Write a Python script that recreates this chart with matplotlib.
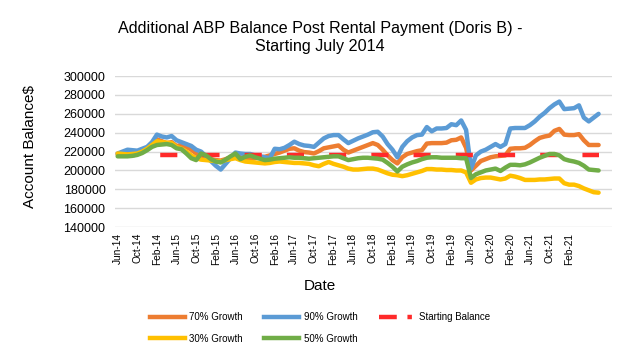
import numpy as np
import matplotlib.pyplot as plt
from matplotlib.lines import Line2D

plt.rcParams['font.family'] = ['Liberation Sans', 'DejaVu Sans']

# DATA (account balance, in thousands of $), one value per month from Jun-14
g90 = [218, 220, 222, 221.5, 221, 223, 225, 230, 238, 236, 235, 236.5, 232, 230, 228, 226, 222, 220, 215, 210,
       205, 201, 207, 213, 219, 218, 217.5, 217.5, 216, 215, 214, 213, 223, 222.5, 224, 227, 230.5, 228, 226.5, 226,
       225, 229.5, 234, 236.5, 237.5, 237.5, 233, 229, 231.5, 234, 236, 238, 240.5, 241, 236, 228, 222, 214, 225, 231,
       235, 237.5, 238, 246, 241.5, 244.5, 244.5, 245, 249, 248, 253, 243, 202, 216, 220, 222, 225, 228, 225, 228,
       244.5, 245, 245, 245, 248, 252, 257, 261, 266, 270, 273, 265, 265.5, 266, 269, 256, 252, 256, 260]
g70 = [217, 218, 219, 219, 219.5, 221, 223, 227, 233, 231, 229, 230, 226, 227, 225, 222, 218, 214, 213, 212,
       211, 210.5, 212, 214, 216, 214, 212, 212, 213, 214, 214.5, 216, 217.5, 219, 221, 223, 223.5, 221, 219.5, 219,
       218, 220.5, 223.5, 224.5, 225.5, 226.5, 222, 219, 221, 223, 225, 227, 229, 227, 222, 216, 211, 207.5, 214, 217.5,
       219, 220.5, 221.5, 228.5, 229, 229, 229, 229.5, 232, 232.5, 235, 224, 200, 205, 210, 212, 214, 215, 215.5, 216,
       223, 223.5, 223.5, 224, 227, 231, 234.5, 236, 237, 242, 244, 238, 237.5, 237.5, 238.5, 232, 227, 227, 227]
g50 = [215, 215, 215, 215.5, 216.5, 218.5, 221.5, 225, 227, 227.5, 228, 227, 223.5, 222.5, 218, 213, 211, 218, 216, 212,
       209.5, 208.5, 211.5, 215, 218, 212, 214.5, 216, 214, 212.5, 211, 211.5, 212.5, 213, 213.5, 214, 213.5, 213.5, 213, 212.5,
       213, 213.5, 214, 214.5, 215, 215, 213, 211, 212, 213, 213.5, 213.5, 213, 212.5, 211.5, 208, 204, 199, 204, 206.5,
       208.5, 210, 212, 213.5, 214, 214, 213.5, 213.5, 213.5, 213.5, 213, 213, 192, 196, 198, 200, 201, 202, 199.5, 203,
       206, 206, 205.5, 206.5, 208.5, 211, 213.5, 215.5, 217.5, 217.5, 216, 212, 210.5, 209.5, 208, 205, 201, 200.5, 200]
g30 = [218, 217.5, 217, 217.5, 218, 220, 223, 227, 231, 230, 229.5, 229, 225, 223, 220, 216, 213, 211.5, 211, 210.5,
       210, 209.5, 211, 212, 213, 211, 209.5, 209, 208.5, 208, 207.5, 208, 209, 209.5, 209, 208.5, 208, 208, 207.5, 207,
       205.5, 204.5, 207, 209, 207, 205.5, 204, 202, 201, 201, 201.5, 202, 202, 201, 199, 197, 195.5, 195, 194, 195,
       196.5, 198, 199.5, 201.5, 201.5, 201, 201, 200.5, 200.5, 200, 200, 198, 187, 190.5, 192, 192.5, 192.5, 191.5, 190.5, 191.5,
       194.5, 193.5, 192, 190, 190, 190, 190.5, 190.5, 191, 191.5, 191.5, 186.5, 185, 185, 183.5, 181, 179, 177, 176.5]
start_balance = 216

tick_labels = ['Jun-14', 'Oct-14', 'Feb-14', 'Jun-15', 'Oct-15', 'Feb-15', 'Jun-16', 'Oct-16', 'Feb-16',
               'Jun-17', 'Oct-17', 'Feb-17', 'Jun-18', 'Oct-18', 'Feb-18', 'Jun-19', 'Oct-19', 'Feb-19',
               'Jun-20', 'Oct-20', 'Feb-20', 'Jun-21', 'Oct-21', 'Feb-21']

# colours (excel default palette)
c70 = '#ED7D31'
c90 = '#5B9BD5'
cstart = '#FF2A2A'
c30 = '#FFC000'
c50 = '#70AD47'

x = np.arange(len(g90))
k = 1000

fig = plt.figure(figsize=(6.4, 3.64), dpi=100)
ax = fig.add_axes([0.18, 0.376, 0.776, 0.415])

lw = 3.2
kw = dict(lw=lw, solid_joinstyle='round', solid_capstyle='round')
ax.plot(x, np.array(g70) * k, color=c70, **kw)
ax.plot(x, np.array(g90) * k, color=c90, **kw)
ax.plot(x, np.full(len(x), start_balance * k), color=cstart, lw=lw, dashes=(3.85, 5.65))
ax.plot(x, np.array(g30) * k, color=c30, **kw)
ax.plot(x, np.array(g50) * k, color=c50, **kw)

ax.set_ylim(140000, 300000)
ax.set_yticks(np.arange(140000, 300001, 20000))
ax.set_xlim(-0.5, 100.7)
ax.set_xticks(np.arange(0, 4 * len(tick_labels), 4))
ax.set_xticklabels(tick_labels, rotation=90, fontsize=7.3)
ax.tick_params(axis='y', labelsize=9, length=0, pad=7)
ax.tick_params(axis='x', length=0, pad=4)
ax.grid(axis='y', color='#D9D9D9', lw=1)
ax.set_axisbelow(True)
for s in ax.spines.values():
    s.set_visible(False)

# titles
fig.text(0.5, 1 - 38 / 364, 'Additional ABP Balance Post Rental Payment (Doris B) -\nStarting July 2014',
         ha='center', va='center', fontsize=11.6, linespacing=1.25)
fig.text(30 / 640, 1 - 147 / 364, 'Account Balance$', rotation=90, ha='center', va='center', fontsize=11)
fig.text(0.5, 1 - 286 / 364, 'Date', ha='center', va='center', fontsize=11)

# legend, same order as the excel one (filled by column here)
h70 = Line2D([], [], color=c70, lw=lw)
h30 = Line2D([], [], color=c30, lw=lw)
h90 = Line2D([], [], color=c90, lw=lw)
h50 = Line2D([], [], color=c50, lw=lw)
hst = Line2D([], [], color=cstart, lw=lw, dashes=(4.0, 2.4, 1.0, 10))
fig.legend([h70, h30, h90, h50, hst],
           ['70% Growth', '30% Growth', '90% Growth', '50% Growth', 'Starting Balance'],
           ncol=3, loc='center', bbox_to_anchor=(0.5, 1 - 328 / 364), frameon=False,
           fontsize=7, handlelength=3.6, handletextpad=0.5, columnspacing=2.2, labelspacing=1.2)

fig.savefig('out.png', dpi=100)
